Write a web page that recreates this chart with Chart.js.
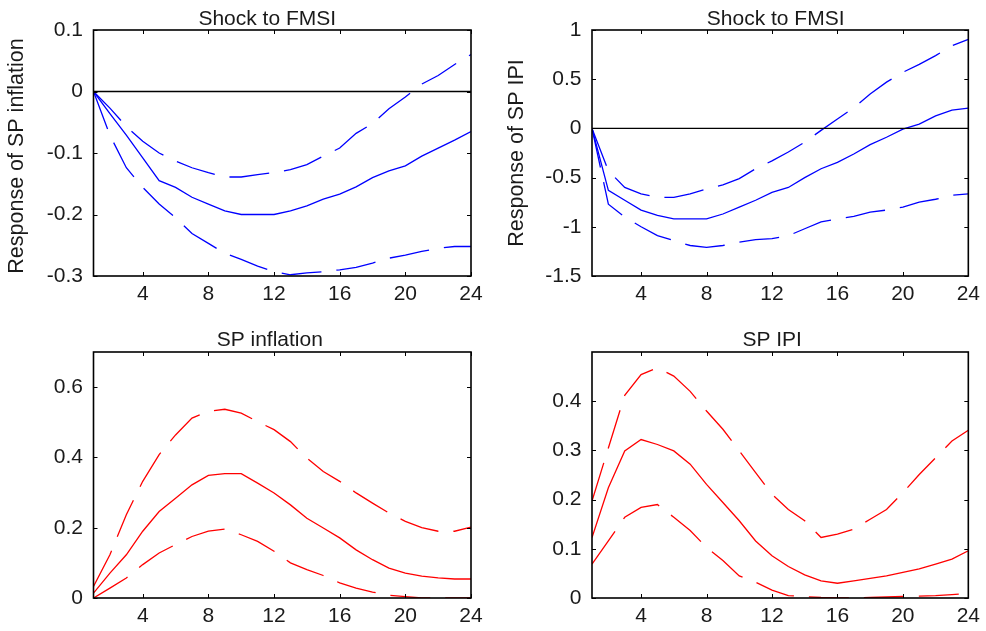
<!DOCTYPE html>
<html>
<head>
<meta charset="utf-8">
<script src="https://cdn.jsdelivr.net/npm/chart.js@4.4.1/dist/chart.umd.min.js"></script>
<style>
  html, body { margin: 0; padding: 0; background: #fff; }
  body { width: 986px; height: 631px; position: relative; overflow: hidden; }
  .panel { position: absolute; }
</style>
</head>
<body>
<div class="panel" style="left:0;top:0"><canvas id="tl" width="493" height="316"></canvas></div>
<div class="panel" style="left:493px;top:0"><canvas id="tr" width="493" height="316"></canvas></div>
<div class="panel" style="left:0;top:316px"><canvas id="bl" width="493" height="315"></canvas></div>
<div class="panel" style="left:493px;top:316px"><canvas id="br" width="493" height="315"></canvas></div>
<script>
// horizon (months) and tick values
const horizon = [1, 2, 3, 4, 5, 6, 7, 8, 9, 10, 11, 12, 13, 14, 15, 16, 17, 18, 19, 20, 21, 22, 23, 24];
const xTicks = [4, 8, 12, 16, 20, 24];

// response of SP inflation to FMSI shock
const inflMid = [0, -0.036, -0.071, -0.108, -0.145, -0.156, -0.172, -0.183, -0.194, -0.2, -0.2, -0.2,
  -0.194, -0.186, -0.175, -0.167, -0.155, -0.14, -0.129, -0.121, -0.105, -0.092, -0.079, -0.065];
const inflUp = [0, -0.027, -0.057, -0.081, -0.1, -0.113, -0.124, -0.132, -0.139, -0.139, -0.135, -0.132,
  -0.127, -0.119, -0.105, -0.092, -0.068, -0.052, -0.028, -0.009, 0.012, 0.026, 0.044, 0.06];
const inflLo = [0, -0.071, -0.124, -0.156, -0.183, -0.205, -0.231, -0.247, -0.263, -0.273, -0.284, -0.293,
  -0.298, -0.295, -0.293, -0.29, -0.286, -0.279, -0.271, -0.266, -0.26, -0.255, -0.252, -0.252];

// response of SP IPI to FMSI shock
const ipiMid = [0, -0.63, -0.73, -0.83, -0.885, -0.92, -0.92, -0.92, -0.87, -0.8, -0.73, -0.65,
  -0.6, -0.5, -0.41, -0.345, -0.26, -0.165, -0.09, -0.007, 0.044, 0.128, 0.186, 0.206];
const ipiUp = [0, -0.43, -0.6, -0.665, -0.7, -0.7, -0.665, -0.615, -0.575, -0.51, -0.41, -0.33,
  -0.24, -0.14, -0.02, 0.095, 0.21, 0.35, 0.47, 0.57, 0.65, 0.74, 0.84, 0.905];
const ipiLo = [0, -0.77, -0.9, -1.0, -1.09, -1.14, -1.19, -1.21, -1.19, -1.155, -1.13, -1.12,
  -1.09, -1.02, -0.95, -0.92, -0.895, -0.85, -0.83, -0.8, -0.75, -0.72, -0.68, -0.665];

// SP inflation (own shock)
const spInflMid = [0.014, 0.071, 0.123, 0.19, 0.246, 0.284, 0.322, 0.349, 0.354, 0.354, 0.327, 0.299,
  0.265, 0.227, 0.199, 0.171, 0.137, 0.109, 0.085, 0.071, 0.062, 0.057, 0.054, 0.054];
const spInflUp = [0.033, 0.123, 0.237, 0.332, 0.408, 0.464, 0.512, 0.531, 0.537, 0.526, 0.502, 0.479,
  0.445, 0.398, 0.36, 0.332, 0.299, 0.27, 0.242, 0.218, 0.2, 0.19, 0.19, 0.202];
const spInflLo = [0, 0.028, 0.057, 0.095, 0.128, 0.152, 0.175, 0.19, 0.196, 0.18, 0.161, 0.133,
  0.1, 0.081, 0.064, 0.043, 0.028, 0.017, 0.008, 0.004, 0, 0, 0, 0];

// SP IPI (own shock)
const spIpiMid = [0.123, 0.224, 0.299, 0.322, 0.312, 0.299, 0.272, 0.231, 0.194, 0.157, 0.116, 0.086,
  0.064, 0.047, 0.035, 0.03, 0.035, 0.04, 0.045, 0.052, 0.059, 0.069, 0.079, 0.096];
const spIpiUp = [0.197, 0.305, 0.412, 0.454, 0.468, 0.451, 0.42, 0.38, 0.343, 0.299, 0.255, 0.211,
  0.18, 0.157, 0.123, 0.13, 0.14, 0.16, 0.18, 0.214, 0.251, 0.285, 0.319, 0.341];
const spIpiLo = [0.069, 0.116, 0.164, 0.184, 0.19, 0.164, 0.137, 0.103, 0.076, 0.045, 0.032, 0.016,
  0.005, 0.003, 0.001, 0, 0, 0.001, 0.002, 0.003, 0.004, 0.005, 0.007, 0.009];

const tlTicks = [-0.3, -0.2, -0.1, 0, 0.1];
const trTicks = [-1.5, -1, -0.5, 0, 0.5, 1];
const blTicks = [0, 0.2, 0.4, 0.6];
const brTicks = [0, 0.1, 0.2, 0.3, 0.4];

const FONT = 'Liberation Sans, Arial, sans-serif';
const TEXT = '#1a1a1a';

function pts(vals) {
  return vals.map((v, i) => ({ x: horizon[i], y: v }));
}

// box + inward tick marks + panel title + y label, matlab style
const framePlugin = {
  id: 'frame',
  afterDraw(chart, args, opts) {
    const { ctx, chartArea: a, scales } = chart;
    ctx.save();
    ctx.strokeStyle = '#000';
    ctx.lineWidth = 1;
    const len = 4;
    scales.x.ticks.forEach(t => {
      const px = Math.round(scales.x.getPixelForValue(t.value)) + 0.5;
      ctx.beginPath();
      ctx.moveTo(px, a.bottom); ctx.lineTo(px, a.bottom - len);
      ctx.moveTo(px, a.top); ctx.lineTo(px, a.top + len);
      ctx.stroke();
    });
    scales.y.ticks.forEach(t => {
      const py = Math.round(scales.y.getPixelForValue(t.value)) + 0.5;
      ctx.beginPath();
      ctx.moveTo(a.left, py); ctx.lineTo(a.left + len, py);
      ctx.moveTo(a.right, py); ctx.lineTo(a.right - len, py);
      ctx.stroke();
    });
    ctx.lineWidth = 1.6;
    ctx.strokeRect(a.left, a.top, a.right - a.left, a.bottom - a.top);

    ctx.fillStyle = TEXT;
    ctx.textAlign = 'center';
    if (opts.text) {
      ctx.font = '21px ' + FONT;
      ctx.textBaseline = 'alphabetic';
      ctx.fillText(opts.text, (a.left + a.right) / 2 + opts.dx, opts.y);
    }
    if (opts.yLabel) {
      ctx.font = '21.5px ' + FONT;
      ctx.textBaseline = 'middle';
      ctx.translate(opts.yLabelX, opts.yLabelY);
      ctx.rotate(-Math.PI / 2);
      ctx.fillText(opts.yLabel, 0, 0);
    }
    ctx.restore();
  }
};

function makePanel(id, cfg) {
  const canvas = document.getElementById(id);
  const W = canvas.width, H = canvas.height;
  const datasets = [];
  if (cfg.zeroLine) {
    datasets.push({
      data: [{ x: horizon[0], y: 0 }, { x: horizon[horizon.length - 1], y: 0 }],
      borderColor: '#000', borderWidth: 1.4
    });
  }
  [cfg.up, cfg.lo].forEach(s => datasets.push({
    data: pts(s), borderColor: cfg.color, borderWidth: 1.3, borderDash: [40, 15]
  }));
  datasets.push({ data: pts(cfg.mid), borderColor: cfg.color, borderWidth: 1.3 });

  return new Chart(canvas, {
    type: 'line',
    data: { datasets },
    plugins: [framePlugin],
    options: {
      responsive: false,
      animation: false,
      events: [],
      elements: { point: { radius: 0 }, line: { tension: 0, fill: false } },
      layout: { padding: { left: 0, top: cfg.area.top, right: W - cfg.area.right, bottom: 0 } },
      plugins: {
        legend: { display: false },
        tooltip: { enabled: false },
        frame: {
          text: cfg.title, dx: cfg.titleDx, y: cfg.titleY,
          yLabel: cfg.yLabel, yLabelX: cfg.yLabelX, yLabelY: cfg.yLabelY
        }
      },
      scales: {
        x: {
          type: 'linear', min: 1, max: 24,
          grid: { display: false, drawTicks: false },
          border: { display: false },
          ticks: { padding: 6, color: TEXT, font: { family: FONT, size: 21 }, maxRotation: 0 },
          afterBuildTicks: s => { s.ticks = xTicks.map(v => ({ value: v })); },
          afterFit: s => { s.height = H - cfg.area.bottom; }
        },
        y: {
          type: 'linear', min: cfg.yMin, max: cfg.yMax,
          grid: { display: false, drawTicks: false },
          border: { display: false },
          ticks: {
            padding: 10.5, color: TEXT, font: { family: FONT, size: 21 },
            callback: v => String(+v.toFixed(2))
          },
          afterBuildTicks: s => { s.ticks = cfg.yTicks.map(v => ({ value: v })); },
          afterFit: s => { s.width = cfg.area.left; }
        }
      }
    }
  });
}

makePanel('tl', {
  title: 'Shock to FMSI', titleDx: -15, titleY: 25,
  yLabel: 'Response of SP inflation', yLabelX: 17.5, yLabelY: 156,
  area: { left: 93.5, top: 30, right: 471, bottom: 276 },
  yMin: -0.3, yMax: 0.1, yTicks: tlTicks,
  color: '#0000ff', zeroLine: true,
  mid: inflMid, up: inflUp, lo: inflLo
});

makePanel('tr', {
  title: 'Shock to FMSI', titleDx: -4.5, titleY: 25,
  yLabel: 'Response of SP IPI', yLabelX: 24.5, yLabelY: 153,
  area: { left: 99, top: 30, right: 479, bottom: 276 },
  yMin: -1.5, yMax: 1, yTicks: trTicks,
  color: '#0000ff', zeroLine: true,
  mid: ipiMid, up: ipiUp, lo: ipiLo
});

makePanel('bl', {
  title: 'SP inflation', titleDx: -12.5, titleY: 30,
  area: { left: 93.5, top: 36, right: 471, bottom: 282 },
  yMin: 0, yMax: 0.7, yTicks: blTicks,
  color: '#ff0000', zeroLine: false,
  mid: spInflMid, up: spInflUp, lo: spInflLo
});

makePanel('br', {
  title: 'SP IPI', titleDx: -8, titleY: 30,
  area: { left: 99, top: 36, right: 479.5, bottom: 282 },
  yMin: 0, yMax: 0.5, yTicks: brTicks,
  color: '#ff0000', zeroLine: false,
  mid: spIpiMid, up: spIpiUp, lo: spIpiLo
});
</script>
</body>
</html>
